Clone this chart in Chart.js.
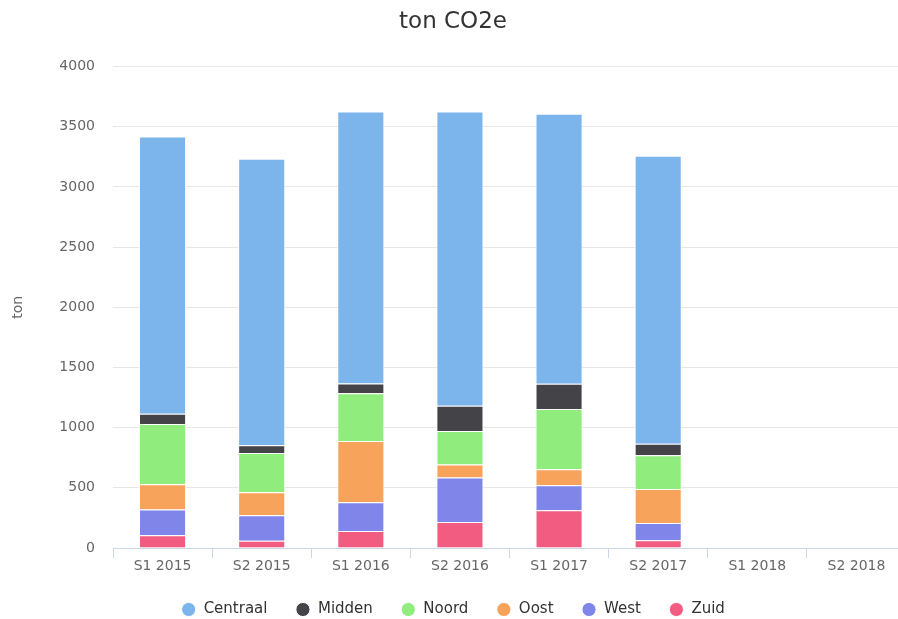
<!DOCTYPE html>
<html><head><meta charset="utf-8">
<script src="https://cdn.jsdelivr.net/npm/chart.js@4/dist/chart.umd.min.js"></script>
<style>
html,body{margin:0;padding:0;background:#fff;overflow:hidden;}
#wrap{position:relative;width:932px;height:619px;}
</style></head><body>
<div id="wrap"><canvas id="c" width="932" height="619"></canvas></div>
<script>
const categories = ['S1 2015','S2 2015','S1 2016','S2 2016','S1 2017','S2 2017','S1 2018','S2 2018'];
const centraal = [2304, 2381, 2260, 2445, 2245, 2393, null, null];
const midden   = [85, 64, 80, 208, 208, 96, null, null];
const noord    = [500, 327, 396, 280, 502, 280, null, null];
const oost     = [210, 191, 510, 108, 133, 283, null, null];
const west     = [215, 212, 239, 369, 208, 144, null, null];
const zuid     = [105, 60, 141, 216, 313, 64, null, null];
const yTicks   = [0, 500, 1000, 1500, 2000, 2500, 3000, 3500, 4000];

const FONT = "'DejaVu Sans', sans-serif";
function ds(label, data, color, order) {
  return { label, data, backgroundColor: color, borderColor: '#ffffff', borderWidth: 1,
           order, barPercentage: 0.475, categoryPercentage: 1.0 };
}
new Chart(document.getElementById('c'), {
  type: 'bar',
  data: {
    labels: categories,
    datasets: [
      ds('Centraal', centraal, '#7cb5ec', 5),
      ds('Midden', midden, '#434348', 4),
      ds('Noord', noord, '#90ed7d', 3),
      ds('Oost', oost, '#f7a35c', 2),
      ds('West', west, '#8085e9', 1),
      ds('Zuid', zuid, '#f15c80', 0)
    ]
  },
  options: {
    responsive: false,
    animation: false,
    layout: { padding: { left: 0, right: 26, top: 0, bottom: -8 } },
    plugins: {
      title: { display: true, text: 'ton CO2e', color: '#333333',
               font: { family: FONT, size: 23, weight: 'normal' },
               padding: { top: 8, bottom: 31 } },
      legend: { position: 'bottom',
                labels: { usePointStyle: true, pointStyle: 'circle', boxWidth: 15, boxHeight: 10,
                          padding: 28, color: '#333333', font: { family: FONT, size: 15 },
                          sort: (a, b) => a.datasetIndex - b.datasetIndex } },
      tooltip: { enabled: false }
    },
    scales: {
      x: { stacked: true,
           grid: { display: true, drawOnChartArea: false, drawTicks: true, tickLength: 10, color: '#ccd6eb', offset: true },
           border: { display: true, color: '#ccd6eb', width: 1 },
           ticks: { color: '#666666', font: { family: FONT, size: 14 }, padding: 0, maxRotation: 0 },
           afterFit: (s) => { s.height = 26; } },
      y: { stacked: true, min: 0, max: 4000,
           afterBuildTicks: (s) => { s.ticks = yTicks.map(v => ({ value: v })); },
           grid: { color: '#e6e6e6', drawTicks: false },
           border: { display: false },
           ticks: { color: '#666666', font: { family: FONT, size: 14 }, padding: 18,
                    callback: (v) => String(v) },
           title: { display: true, text: 'ton', color: '#666666', font: { family: FONT, size: 14 }, padding: { top: 10, bottom: 0 } },
           afterFit: (s) => { s.width = 113; } }
    }
  }
});
</script>
</body></html>
